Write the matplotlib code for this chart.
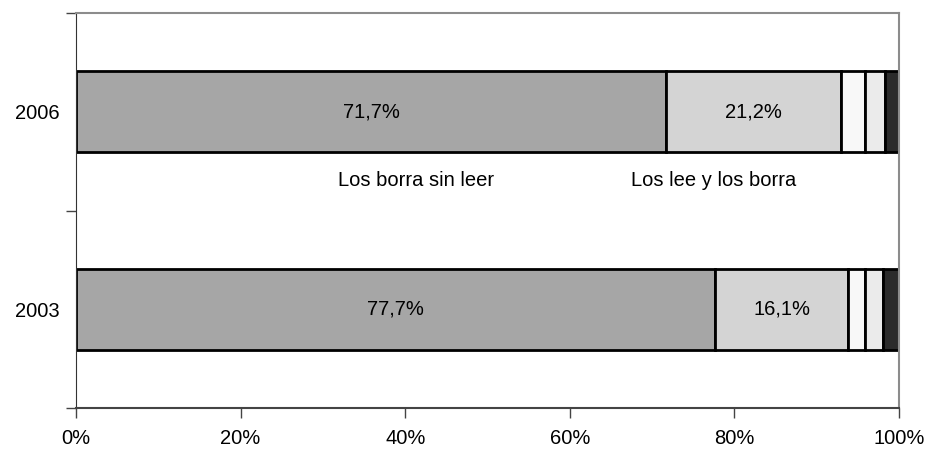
import matplotlib
matplotlib.use("Agg")
import matplotlib.pyplot as plt
import numpy as np

plt.rcParams['font.family'] = ['Liberation Sans', 'DejaVu Sans']

years = ["2003", "2006"]
# Share of responses per year, in percent
borra_sin_leer = [77.7, 71.7]
lee_y_borra = [16.1, 21.2]
otra_a = [2.1, 3.0]
otra_b = [2.1, 2.4]
otra_c = [2.0, 1.7]

series = [borra_sin_leer, lee_y_borra, otra_a, otra_b, otra_c]
colors = ["#a6a6a6", "#d4d4d4", "#f8f8f8", "#ebebeb", "#2b2b2b"]
labelled = [True, True, False, False, False]

fig = plt.figure(figsize=(9.27, 4.49), dpi=100)
ax = fig.add_axes([76 / 927, 41 / 449, 823 / 927, 395 / 449])

y = np.arange(len(years))
left = np.zeros(len(years))
for vals, col, lab in zip(series, colors, labelled):
    vals = np.array(vals)
    ax.barh(y, vals, left=left, height=0.41, color=col, edgecolor="black",
            linewidth=2)
    if lab:
        for yi, (l, v) in enumerate(zip(left, vals)):
            ax.text(l + v / 2, yi, f"{v:.1f}%".replace(".", ","),
                    ha="center", va="center", fontsize=14.5)
    left += vals

ax.text(41.3, 0.654, "Los borra sin leer", ha="center", va="center", fontsize=14.5)
ax.text(77.5, 0.654, "Los lee y los borra", ha="center", va="center", fontsize=14.5)

ax.set_xlim(0, 100)
ax.set_ylim(-0.5, 1.5)
ax.set_xticks(np.arange(0, 101, 20))
ax.set_xticklabels([f"{v}%" for v in range(0, 101, 20)], fontsize=14.5)
ax.set_yticks([-0.5, 0.5, 1.5], minor=False)
ax.set_yticklabels([])
ax.set_yticks(y, minor=True)
ax.set_yticklabels(years, minor=True, fontsize=14.5)
ax.tick_params(axis="y", which="minor", length=0, pad=12)
ax.tick_params(axis="y", which="major", length=7, width=1, color="#444444")
ax.tick_params(axis="x", length=7, width=1, color="#444444", pad=8)

ax.spines["left"].set_color("#333333")
ax.spines["bottom"].set_color("#444444")
ax.spines["bottom"].set_linewidth(1.5)
ax.spines["top"].set_color("#8c8c8c")
ax.spines["right"].set_color("#8c8c8c")
ax.spines["top"].set_linewidth(1.5)
ax.spines["right"].set_linewidth(1.5)

fig.savefig("out.png", dpi=100, facecolor="white")
